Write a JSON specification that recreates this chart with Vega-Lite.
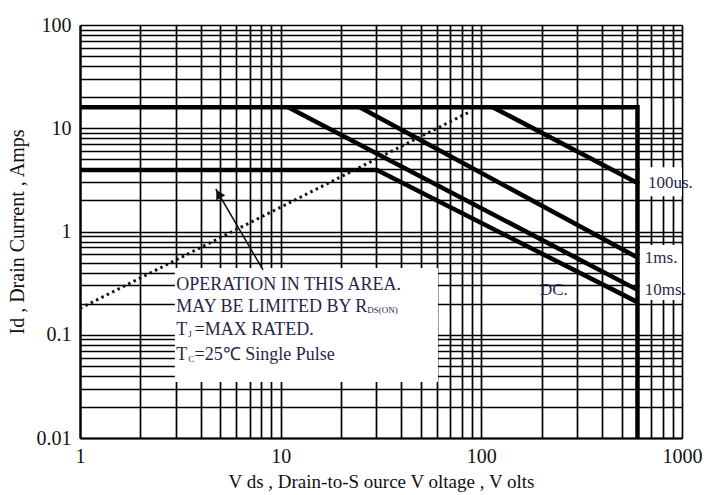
{
  "$schema": "https://vega.github.io/schema/vega-lite/v6.json",
  "width": 602,
  "height": 413,
  "autosize": {"type": "none"},
  "padding": {"left": 80, "top": 25, "right": 30, "bottom": 57},
  "background": "white",
  "config": {
    "view": {"stroke": null},
    "axis": {
      "grid": true,
      "gridColor": "#000000",
      "gridWidth": 1.7,
      "gridOpacity": 1,
      "ticks": false,
      "domain": true,
      "domainColor": "#000000",
      "domainWidth": 2.2,
      "labelFont": "Liberation Serif",
      "labelFontSize": 20,
      "labelColor": "#111111",
      "labelOverlap": false,
      "labelFlush": false,
      "labelBound": false,
      "titleFont": "Liberation Serif",
      "titleFontSize": 19,
      "titleFontWeight": "normal",
      "titleColor": "#111111"
    }
  },
  "datasets": {
    "lines": [
      {"s": "lim", "k": 1, "v": 1, "i": 16},
      {"s": "lim", "k": 2, "v": 600, "i": 16},
      {"s": "lim", "k": 3, "v": 600, "i": 0.01},
      {"s": "dc", "k": 1, "v": 1, "i": 3.94},
      {"s": "dc", "k": 2, "v": 30.2, "i": 3.94},
      {"s": "dc", "k": 3, "v": 600, "i": 0.207},
      {"s": "10ms", "k": 1, "v": 10.9, "i": 16},
      {"s": "10ms", "k": 2, "v": 600, "i": 0.272},
      {"s": "1ms", "k": 1, "v": 24.8, "i": 16},
      {"s": "1ms", "k": 2, "v": 600, "i": 0.56},
      {"s": "100us", "k": 1, "v": 114, "i": 16},
      {"s": "100us", "k": 2, "v": 600, "i": 2.95}
    ],
    "rds": [
      {"k": 1, "v": 1, "i": 0.18},
      {"k": 2, "v": 88, "i": 14.5}
    ],
    "arrow": [
      {"k": 1, "v": 8.17, "i": 0.424},
      {"k": 2, "v": 4.75, "i": 2.58}
    ],
    "head": [
      {"v": 4.9, "i": 2.31}
    ],
    "boxes": [
      {"v": 2.97, "v2": 60.8, "i": 0.443, "i2": 0.0348},
      {"v": 617, "v2": 1000, "i": 4.2, "i2": 2.2},
      {"v": 617, "v2": 1000, "i": 0.74, "i2": 0.217}
    ],
    "notes": [
      {"t": "OPERATION IN THIS AREA.", "v": 3.02, "i": 0.303},
      {"t": "MAY BE LIMITED BY R", "v": 3.02, "i": 0.186},
      {"t": "T", "v": 3.02, "i": 0.111},
      {"t": "=MAX RATED.", "v": 3.72, "i": 0.111},
      {"t": "T", "v": 3.02, "i": 0.0637},
      {"t": "=25℃  Single Pulse", "v": 3.72, "i": 0.0637}
    ],
    "subs": [
      {"t": "DS(ON)", "v": 27, "i": 0.172},
      {"t": "J", "v": 3.46, "i": 0.102},
      {"t": "C", "v": 3.46, "i": 0.0585}
    ],
    "labels": [
      {"t": "100us.", "v": 676, "i": 2.95},
      {"t": "1ms.", "v": 653, "i": 0.553},
      {"t": "10ms.", "v": 653, "i": 0.271},
      {"t": "DC.", "v": 196, "i": 0.271}
    ]
  },
  "encoding": {
    "x": {
      "field": "v",
      "type": "quantitative",
      "scale": {"type": "log", "domain": [1, 1000], "nice": false},
      "axis": {
        "title": "V ds , Drain-to-S ource V oltage , V olts",
        "values": [1, 2, 3, 4, 5, 6, 7, 8, 9, 10, 20, 30, 40, 50, 60, 70, 80, 90, 100, 200, 300, 400, 500, 600, 700, 800, 900, 1000],
        "format": "~g",
        "labelExpr": "indexof([1, 10, 100, 1000], datum.value) >= 0 ? datum.label : ''",
        "labelPadding": 8,
        "titlePadding": 6
      }
    },
    "y": {
      "field": "i",
      "type": "quantitative",
      "scale": {"type": "log", "domain": [0.01, 100], "nice": false},
      "axis": {
        "title": "Id , Drain Current , Amps",
        "titleFontSize": 20,
        "values": [0.01, 0.02, 0.03, 0.04, 0.05, 0.06, 0.07, 0.08, 0.09, 0.1, 0.2, 0.3, 0.4, 0.5, 0.6, 0.7, 0.8, 0.9, 1, 2, 3, 4, 5, 6, 7, 8, 9, 10, 20, 30, 40, 50, 60, 70, 80, 90, 100],
        "format": "~g",
        "labelExpr": "indexof([0.01, 0.1, 1, 10, 100], datum.value) >= 0 ? datum.label : ''",
        "labelPadding": 9,
        "titlePadding": 9
      }
    }
  },
  "layer": [
    {
      "data": {"name": "boxes"},
      "mark": {"type": "rect", "fill": "white", "stroke": null},
      "encoding": {
        "x2": {"field": "v2"},
        "y2": {"field": "i2"}
      }
    },
    {
      "data": {"name": "lines"},
      "mark": {"type": "line", "color": "#000000", "strokeWidth": 4.5, "strokeJoin": "miter", "strokeCap": "butt"},
      "encoding": {
        "detail": {"field": "s"},
        "order": {"field": "k"}
      }
    },
    {
      "data": {"name": "rds"},
      "mark": {"type": "line", "color": "#111111", "strokeWidth": 3, "strokeDash": [2.5, 3.5]},
      "encoding": {"order": {"field": "k"}}
    },
    {
      "data": {"name": "arrow"},
      "mark": {"type": "line", "color": "#111111", "strokeWidth": 1.5},
      "encoding": {"order": {"field": "k"}}
    },
    {
      "data": {"name": "head"},
      "mark": {"type": "point", "shape": "triangle-up", "filled": true, "color": "#111111", "size": 110, "angle": 330, "opacity": 1}
    },
    {
      "data": {"name": "notes"},
      "mark": {"type": "text", "font": "Liberation Serif", "fontSize": 18, "align": "left", "baseline": "middle", "color": "#2a1f4a"},
      "encoding": {"text": {"field": "t"}}
    },
    {
      "data": {"name": "subs"},
      "mark": {"type": "text", "font": "Liberation Serif", "fontSize": 9, "align": "left", "baseline": "middle", "color": "#2a1f4a"},
      "encoding": {"text": {"field": "t"}}
    },
    {
      "data": {"name": "labels"},
      "mark": {"type": "text", "font": "Liberation Serif", "fontSize": 17, "align": "left", "baseline": "middle", "color": "#2a1f4a"},
      "encoding": {"text": {"field": "t"}}
    }
  ]
}
